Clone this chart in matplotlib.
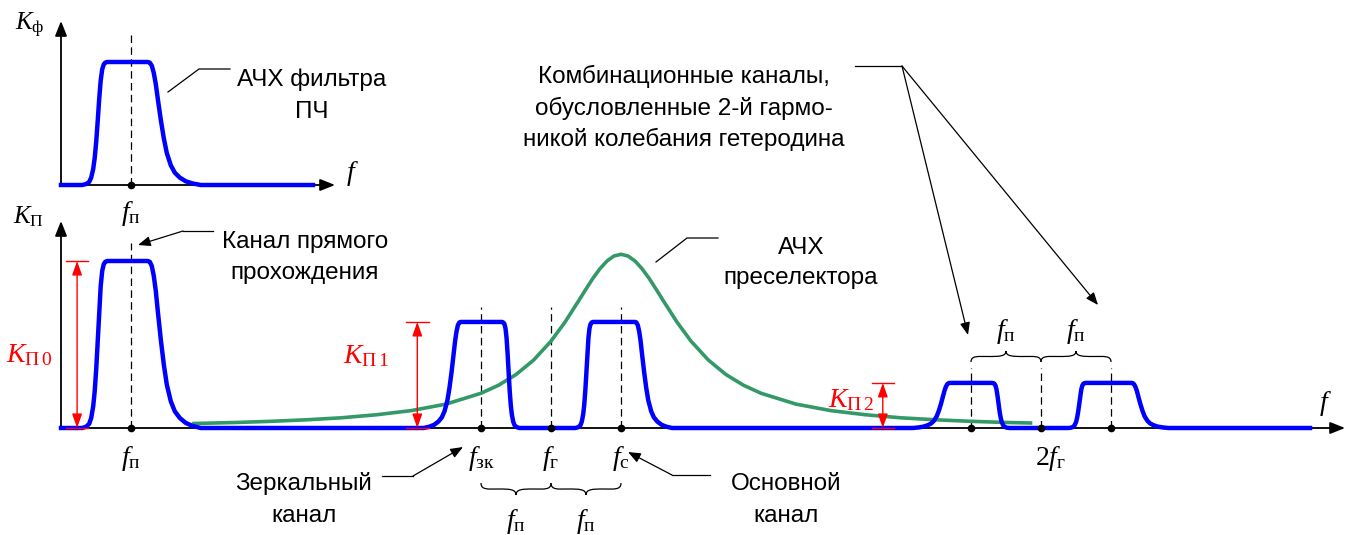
import numpy as np
import matplotlib
matplotlib.use('Agg')
import matplotlib.pyplot as plt
from matplotlib.path import Path
from matplotlib.patches import PathPatch

plt.rcParams['font.family'] = ['Liberation Sans', 'DejaVu Sans']
plt.rcParams['mathtext.fontset'] = 'custom'
plt.rcParams['mathtext.rm'] = 'Liberation Serif'
plt.rcParams['mathtext.it'] = 'Liberation Serif:italic'
plt.rcParams['mathtext.bf'] = 'Liberation Serif:bold'

#%%============================================================================
# Data (frequency in units of f_п, gain relative to K_П0)
#==============================================================================

# upper plot: IF filter
top_mark = 1.0
top_band_left, top_band_right = 0.66, 1.24

# lower plot: channels
f_marks = [1, 6, 7, 8, 13, 14, 15]
mark_labels = [r'$f_\mathrm{п}$', r'$f_\mathrm{зк}$', r'$f_\mathrm{г}$',
               r'$f_\mathrm{с}$', '', r'$2f_\mathrm{г}$', '']

band_left = [0.66, 5.71, 7.60, 12.70, 14.64]
band_right = [1.24, 6.30, 8.20, 13.30, 15.29]
band_gain = [1.0, 0.635, 0.635, 0.27, 0.27]
band_tail = ['r', 'l', 'r', 'l', 'r']     # side with the slow roll-off

# preselector response
presel_f = [1.9, 2.5, 3.0, 3.5, 4.0, 4.5, 5.0, 5.5, 6.0, 6.25, 6.5, 6.75, 7.0,
            7.2, 7.4, 7.5, 7.6, 7.7, 7.8, 7.9, 8.0, 8.1, 8.2, 8.3, 8.4, 8.5,
            8.6, 8.8, 9.0, 9.25, 9.5, 9.75, 10.0, 10.5, 11.0, 11.5, 12.0,
            12.5, 13.0, 13.5, 13.85]
presel_k = [0.027, 0.033, 0.040, 0.049, 0.061, 0.079, 0.104, 0.143, 0.208,
            0.256, 0.320, 0.406, 0.520, 0.634, 0.765, 0.832, 0.897, 0.954,
            1.000, 1.030, 1.040, 1.030, 1.000, 0.954, 0.897, 0.832, 0.765,
            0.634, 0.520, 0.406, 0.320, 0.256, 0.208, 0.143, 0.104, 0.079,
            0.061, 0.049, 0.040, 0.033, 0.030]

# gain markers (red)
kmark_x = [0.23, 5.09, 11.74]
kmark_gain = [1.0, 0.635, 0.27]
kmark_labels = [r'$K_{\mathrm{П}\,0}$', r'$K_{\mathrm{П}\,1}$', r'$K_{\mathrm{П}\,2}$']

# passband edge shapes (pixels from the flat top, fraction of gain)
steep_px = [0, 2, 3.5, 5, 6.5, 8, 9.5, 11, 12.5, 14, 16, 18, 21, 25]
steep_h = [1, .995, .98, .94, .85, .70, .52, .35, .22, .13, .06, .025, .008, 0]
tail_px = [0, 2, 4, 6, 8, 10, 13, 16, 19, 23, 27, 32, 38, 45, 53]
tail_h = [1, .995, .97, .91, .82, .70, .53, .38, .26, .16, .10, .06, .03, .012, 0]

#%%============================================================================
# Layout
#==============================================================================

X0, PXF = 61, 70.0          # pixel of f = 0, pixels per f_п
BOT0, BOTK = 428, 167.0     # lower plot baseline, pixels per unit gain
TOP0, TOPK = 185, 123.0     # upper plot baseline

def bx(px): return (px - X0) / PXF
def by(py): return (BOT0 - py) / BOTK
def ty(py): return (TOP0 - py) / TOPK

BLUE, GREEN, RED = '#0000ff', '#339966', '#ff0000'
FS_F = 20      # f labels
FS_K = 18      # axis K labels
FS_RED = 20    # red K labels

fig = plt.figure(figsize=(13.51, 5.35), dpi=100)
fig.patch.set_facecolor('white')

ax_px = fig.add_axes([0, 0, 1, 1])
ax_px.set_xlim(0, 1351)
ax_px.set_ylim(535, 0)
ax_bot = fig.add_axes([0, 0, 1, 1])
ax_bot.set_xlim(bx(0), bx(1351))
ax_bot.set_ylim(by(535), by(0))
ax_top = fig.add_axes([0, 0, 1, 1])
ax_top.set_xlim(bx(0), bx(1351))
ax_top.set_ylim(ty(535), ty(0))
for ax in (ax_px, ax_bot, ax_top):
    ax.axis('off')
    ax.patch.set_alpha(0)

def band_line(lefts, rights, gains, tails, scales, x_end):
    xs, ys = [0.0], [0.0]
    for l, r, g, t, s in zip(lefts, rights, gains, tails, scales):
        if t == 'l':
            lp, lh, rp, rh = tail_px, tail_h, steep_px, steep_h
        else:
            lp, lh, rp, rh = steep_px, steep_h, tail_px, tail_h
        xs += list(l - np.array(lp[::-1]) * s / PXF)
        ys += list(g * np.array(lh[::-1]))
        xs += list(r + np.array(rp) * s / PXF)
        ys += list(g * np.array(rh))
    xs.append(x_end)
    ys.append(0.0)
    return xs, ys

def axis_arrow(ax, x0, y0, x1, y1):
    ax.annotate('', xy=(x1, y1), xytext=(x0, y0),
                arrowprops=dict(arrowstyle='-|>,head_length=0.9,head_width=0.36',
                                color='black', lw=1.3, shrinkA=0, shrinkB=0,
                                mutation_scale=10))

def brace(ax, x0, x1, y0, h):
    w = x1 - x0
    xm = 0.5 * (x0 + x1)
    ym = y0 - 0.5 * h
    verts = [(x0, y0), (x0, y0 - 0.6 * h), (x0 + 0.1 * w, ym), (x0 + 0.25 * w, ym),
             (x0 + 0.4 * w, ym), (xm, ym), (xm, y0 - h),
             (xm, ym), (x1 - 0.4 * w, ym), (x1 - 0.25 * w, ym),
             (x1 - 0.1 * w, ym), (x1, y0 - 0.6 * h), (x1, y0)]
    codes = [Path.MOVETO] + [Path.CURVE4] * 12
    ax.add_patch(PathPatch(Path(verts, codes), fc='none', ec='black', lw=0.9))

def leader(pts, arrow=False):
    xs = [p[0] for p in pts]
    ys = [p[1] for p in pts]
    if arrow:
        ax_px.plot(xs[:-1], ys[:-1], color='black', lw=0.9)
        ax_px.annotate('', xy=pts[-1], xytext=pts[-2],
                       arrowprops=dict(arrowstyle='-|>,head_length=0.75,head_width=0.3',
                                       color='black', lw=0.9, shrinkA=0, shrinkB=0,
                                       mutation_scale=10))
    else:
        ax_px.plot(xs, ys, color='black', lw=0.9)

def label(x, y, lines, pitch=32):
    for i, s in enumerate(lines):
        ax_px.text(x, y + i * pitch, s, fontsize=17.5, ha='center', va='baseline')

#%%============================================================================
# Upper plot
#==============================================================================

axis_arrow(ax_top, 0, 0, bx(335), 0)
axis_arrow(ax_top, 0, 0, 0, ty(21))
ax_top.plot([top_mark, top_mark], [0, ty(32)], color='black', lw=0.9,
            dashes=(6, 3.5))
x, y = band_line([top_band_left], [top_band_right], [1.0], ['r'], [1.0], bx(313))
ax_top.plot(x, y, color=BLUE, lw=3.2, solid_joinstyle='round', zorder=4)
ax_top.plot([top_mark], [0], 'o', color='black', ms=4.5, zorder=5)
ax_top.text(top_mark, ty(220), r'$f_\mathrm{п}$', fontsize=FS_F, ha='center', va='baseline')
ax_top.text(bx(352), ty(180), r'$f$', fontsize=FS_F, ha='center', va='baseline')
ax_px.text(15, 30, r'$K_\mathrm{ф}$', fontsize=FS_K, va='baseline')

#%%============================================================================
# Lower plot
#==============================================================================

axis_arrow(ax_bot, 0, 0, bx(1345), 0)
axis_arrow(ax_bot, 0, 0, 0, by(221))
ax_px.text(13, 223, r'$K_\mathrm{П}$', fontsize=FS_K, va='baseline')
ax_bot.text(bx(1325), by(410), r'$f$', fontsize=FS_F, ha='center', va='baseline')

dash_top = [by(243), by(307), by(307), by(307), by(368), by(368), by(368)]
for f, d in zip(f_marks, dash_top):
    ax_bot.plot([f, f], [0, d], color='black', lw=0.9, dashes=(6, 3.5), zorder=2)

ax_bot.plot(presel_f, presel_k, color=GREEN, lw=2.6, zorder=3)

x, y = band_line(band_left, band_right, band_gain, band_tail,
                 [1.0, 0.7, 0.7, 0.7, 0.7], bx(1310))
ax_bot.plot(x, y, color=BLUE, lw=3.2, solid_joinstyle='round', zorder=4)

ax_bot.plot(f_marks, [0] * len(f_marks), 'o', color='black', ms=4.5, zorder=5)
for f, s in zip(f_marks, mark_labels):
    if s:
        dx = 0.13 if s.startswith('$2') else 0.0
        ax_bot.text(f + dx, by(465), s, fontsize=FS_F, ha='center', va='baseline')

# gain markers
for x0, g, s in zip(kmark_x, kmark_gain, kmark_labels):
    ax_bot.annotate('', xy=(x0, g), xytext=(x0, 0),
                    arrowprops=dict(arrowstyle='<|-|>,head_length=0.85,head_width=0.3',
                                    color=RED, lw=1.0, shrinkA=0, shrinkB=0,
                                    mutation_scale=10), zorder=6)
    ax_bot.plot([x0 - 0.16, x0 + 0.16], [g, g], color=RED, lw=1.0, zorder=6)
    ax_bot.plot([x0 - 0.16, x0 + 0.16], [0, 0], color=RED, lw=1.0, zorder=6)
ax_px.text(6, 362, kmark_labels[0], fontsize=FS_RED, color=RED, va='baseline')
ax_px.text(343, 363, kmark_labels[1], fontsize=FS_RED, color=RED, va='baseline')
ax_px.text(828, 407, kmark_labels[2], fontsize=FS_RED, color=RED, va='baseline')

# braces
brace(ax_bot, f_marks[1], f_marks[2], by(483), by(483) - by(495))
brace(ax_bot, f_marks[2], f_marks[3], by(483), by(483) - by(495))
brace(ax_bot, f_marks[4], f_marks[5], by(362), by(362) - by(351))
brace(ax_bot, f_marks[5], f_marks[6], by(362), by(362) - by(351))
for a, b in [(1, 2), (2, 3)]:
    ax_bot.text(0.5 * (f_marks[a] + f_marks[b]), by(528), r'$f_\mathrm{п}$',
                fontsize=FS_F, ha='center', va='baseline')
for a, b in [(4, 5), (5, 6)]:
    ax_bot.text(0.5 * (f_marks[a] + f_marks[b]), by(338), r'$f_\mathrm{п}$',
                fontsize=FS_F, ha='center', va='baseline')

#%%============================================================================
# Captions and leaders
#==============================================================================

leader([(168, 92), (199, 69), (230, 69)])
label(312, 86, ['АЧХ фильтра', 'ПЧ'])

leader([(213, 231), (183, 231), (138, 245)], arrow=True)
label(305, 248, ['Канал прямого', 'прохождения'], pitch=31)

leader([(656, 262), (687, 238), (718, 238)])
label(801, 254, ['АЧХ', 'преселектора'], pitch=30)

leader([(382, 476), (413, 476), (463, 447)], arrow=True)
label(304, 490, ['Зеркальный', 'канал'])

leader([(710, 475), (672, 475), (628, 452)], arrow=True)
label(786, 490, ['Основной', 'канал'])

ax_px.plot([855, 902], [66, 66], color='black', lw=0.9)
leader([(902, 66), (968, 335)], arrow=True)
leader([(902, 66), (1098, 305)], arrow=True)
label(684, 83, ['Комбинационные каналы,', 'обусловленные 2-й гармо-',
                'никой колебания гетеродина'], pitch=31.5)

plt.savefig('out.png', dpi=100, facecolor='white')
plt.close()
